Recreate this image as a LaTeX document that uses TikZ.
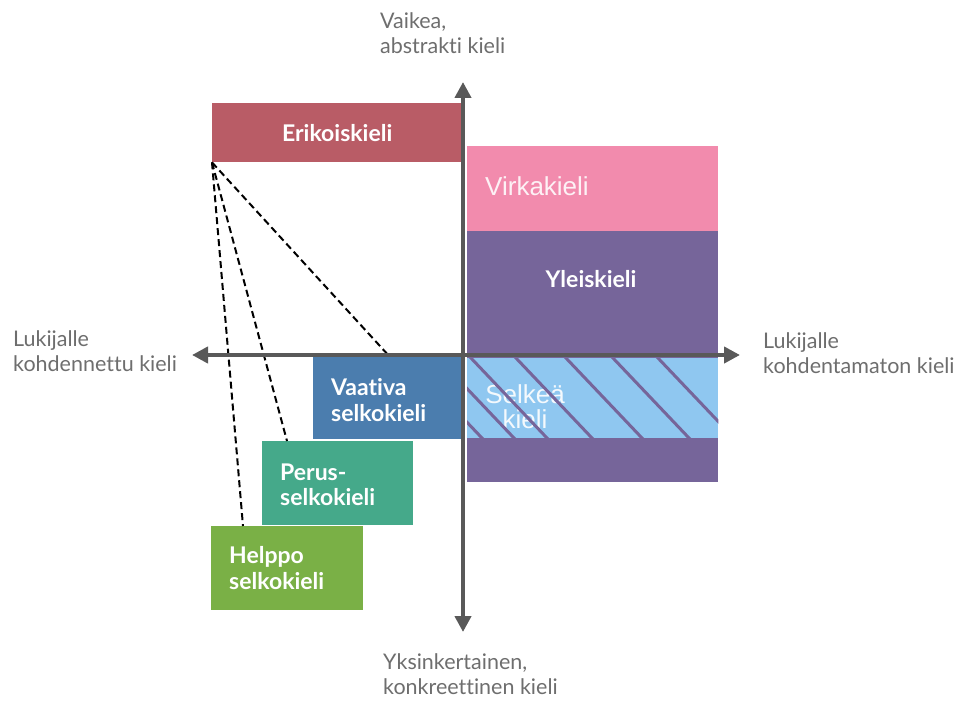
\documentclass[tikz,border=0pt]{standalone}
\usepackage{fontspec}
\setmainfont{Lato}[Ligatures=NoCommon]
\newfontfamily\arialfont{Liberation Sans}
\usetikzlibrary{arrows.meta}

\definecolor{erikred}{HTML}{B95C66}
\definecolor{virkapink}{HTML}{F28BAD}
\definecolor{yleispurple}{HTML}{76659A}
\definecolor{selkblue}{HTML}{8FC7F0}
\definecolor{vaativablue}{HTML}{4B7DAE}
\definecolor{perusteal}{HTML}{45A98A}
\definecolor{helppogreen}{HTML}{7AB046}
\definecolor{axisgray}{HTML}{595959}
\definecolor{labelgray}{HTML}{6E6E6E}

\begin{document}
\begin{tikzpicture}[x=1pt,y=-1pt,
  box/.style={rectangle, draw=none, inner sep=0pt, anchor=north west},
  boxtext/.style={text=white, font=\bfseries\fontsize{23}{25.5}\selectfont, align=left, inner sep=0pt},
  plaintext/.style={text=white, font=\arialfont\fontsize{26}{25}\selectfont, inner sep=0pt},
  axislabel/.style={text=labelgray, font=\fontsize{21.5}{25}\selectfont, align=left, inner sep=0pt, anchor=north west},
  axisline/.style={line width=4pt, draw=axisgray,
    {Triangle[length=16pt,width=16pt]}-{Triangle[length=16pt,width=16pt]}},
  guide/.style={line width=2pt, dash pattern=on 7pt off 4pt},
  hatchline/.style={line width=3pt, draw=yleispurple}
]
\path[use as bounding box, fill=white] (0,0) rectangle (955,706);

% language boxes
\node[box, fill=erikred, minimum width=250pt, minimum height=59pt] (erik) at (212,103) {};
\node[box, fill=yleispurple, minimum width=251pt, minimum height=251pt] (yleis) at (467,231) {};
\node[box, fill=virkapink, minimum width=251pt, minimum height=85pt] (virka) at (467,146) {};
\node[box, fill=selkblue, minimum width=251pt, minimum height=80pt] (selk) at (467,358) {};
\node[box, fill=vaativablue, minimum width=150pt, minimum height=82pt] (vaativa) at (313,357) {};
\node[box, fill=perusteal, minimum width=151pt, minimum height=84pt] (perus) at (262,441) {};
\node[box, fill=helppogreen, minimum width=152pt, minimum height=84pt] (helppo) at (211,526) {};

% box texts
\node[boxtext] (erikt) at (erik.center) {Erikoiskieli};
\node[boxtext] (yleist) at (591,279) {Yleiskieli};
\node[plaintext, text=white!88!virkapink, anchor=base west] (virkat) at (485,195) {Virkakieli};
\node[plaintext, text=white!90!selkblue, align=center, anchor=north] (selkt) at (525,384) {Selkeä\\kieli};
\node[boxtext, anchor=north west] (vaativat) at (331,378.5) {Vaativa\\selkokieli};
\node[boxtext, anchor=north west] (perust) at (280,463.5) {Perus-\\selkokieli};
\node[boxtext, anchor=north west] (helppot) at (229,546.5) {Helppo\\selkokieli};

% hatching over the clear-language band
\begin{scope}
  \clip (selk.north west) rectangle (selk.south east);
  \foreach \x in {405,437,470,515,565,612,657}
    \draw[hatchline] (\x,357) -- ++(95,100);
\end{scope}

% guide lines from the special-language box
\coordinate (gv) at (390,357);
\coordinate (gp) at (287,441);
\coordinate (gh) at (243,526);
\draw[guide] (erik.south west) -- (gv);
\draw[guide] (erik.south west) -- (gp);
\draw[guide] (erik.south west) -- (gh);

% axes
\coordinate (vtop) at (463,82);
\coordinate (vbot) at (463,632);
\coordinate (hleft) at (192,355);
\coordinate (hright) at (740,355);
\draw[axisline] (vbot) -- (vtop);
\draw[axisline] (hleft) -- (hright);

% axis labels
\node[axislabel] (ltop) at (380,12.5) {Vaikea,\\abstrakti kieli};
\node[axislabel] (lleft) at (13,330.5) {Lukijalle\\kohdennettu kieli};
\node[axislabel] (lright) at (763,332.5) {Lukijalle\\kohdentamaton kieli};
\node[axislabel] (lbot) at (383,653.5) {Yksinkertainen,\\konkreettinen kieli};
\end{tikzpicture}
\end{document}
